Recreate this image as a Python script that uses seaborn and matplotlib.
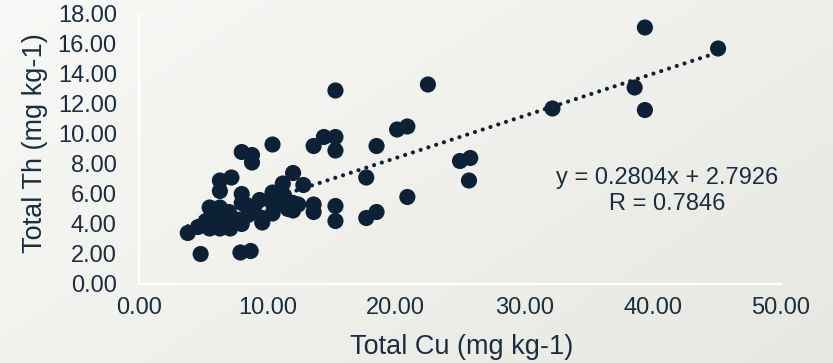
import numpy as np
import pandas as pd
import matplotlib
matplotlib.use("Agg")
import matplotlib.pyplot as plt
import seaborn as sns

# values
cu = [39.4, 45.1, 38.6, 39.4, 32.2, 22.5, 15.3,
      20.1, 20.9, 13.6, 14.4, 15.3, 15.3, 18.5, 17.7,
      25.0, 25.8, 25.7, 20.9, 13.6, 13.6, 15.3, 15.3, 17.7, 18.5,
      10.4, 8.0, 8.8, 8.8, 12.0, 11.2, 12.8, 6.3, 7.2, 6.3, 8.0, 10.4,
      12.0, 12.0, 5.5, 6.3, 3.8, 4.6, 5.5, 6.3, 7.1, 8.0, 4.8, 7.9, 8.7,
      9.6, 9.6, 10.4, 10.4, 9.4, 8.0, 7.9, 6.0, 7.0, 7.5, 8.3, 9.0,
      10.9, 11.3, 6.8, 5.2, 5.8, 8.5, 11.6, 12.4]
th = [17.1, 15.7, 13.1, 11.6, 11.7, 13.3, 12.9,
      10.3, 10.5, 9.2, 9.8, 9.8, 8.9, 9.2, 7.1,
      8.2, 8.4, 6.9, 5.8, 5.3, 4.8, 5.2, 4.2, 4.4, 4.8,
      9.3, 8.8, 8.6, 8.1, 7.4, 6.7, 6.6, 6.9, 7.1, 6.2, 6.0, 6.1,
      5.4, 4.9, 5.1, 5.1, 3.4, 3.8, 3.7, 3.7, 3.7, 4.0, 2.0, 2.1, 2.2,
      4.4, 4.1, 4.7, 5.4, 5.6, 5.4, 4.3, 4.5, 4.8, 4.3, 5.3, 5.2,
      5.3, 5.9, 4.3, 4.2, 4.6, 4.6, 5.0, 5.3]

slope = 0.2804
intercept = 2.7926
r_value = 0.7846

df = pd.DataFrame({"cu": cu, "th": th})

navy = "#0c2136"
txt = "#1b2d40"
bg = "#f1f1ec"

sns.set_style("white")
plt.rcParams["font.family"] = ["Liberation Sans", "DejaVu Sans"]

fig = plt.figure(figsize=(8.33, 3.63), dpi=100)
fig.patch.set_facecolor(bg)

# soft diagonal background gradient
bgax = fig.add_axes([0, 0, 1, 1], zorder=-10)
gx, gy = np.meshgrid(np.linspace(0, 1, 200), np.linspace(0, 1, 100))
bgax.imshow(gx * 0.6 + gy * 0.4, cmap=matplotlib.colors.LinearSegmentedColormap.from_list(
    "bg", ["#f8f8f6", "#e8e8e2"]), aspect="auto", extent=[0, 1, 0, 1], origin="upper")
bgax.axis("off")

ax = fig.add_axes([139 / 833, 1 - 284 / 363, 642 / 833, 270 / 363])
ax.patch.set_alpha(0)

sns.scatterplot(data=df, x="cu", y="th", ax=ax, s=135, color=navy,
                edgecolor="none", zorder=3)

xs = np.array([min(cu), max(cu)])
ax.plot(xs, slope * xs + intercept, color=navy, lw=3.0,
        linestyle=(0, (0.01, 1.95)), dash_capstyle="round", zorder=4)

ax.text(41.1, 7.05, f"y = {slope:.4f}x + {intercept:.4f}", ha="center",
        va="center", fontsize=17, color=txt)
ax.text(41.1, 5.3, f"R = {r_value:.4f}", ha="center", va="center",
        fontsize=17, color=txt)

ax.set_xlim(0, 50)
ax.set_ylim(0, 18)
ax.set_xticks(np.arange(0, 51, 10))
ax.set_yticks(np.arange(0, 19, 2))
ax.set_xticklabels([f"{v:.2f}" for v in np.arange(0, 51, 10)])
ax.set_yticklabels([f"{v:.2f}" for v in np.arange(0, 19, 2)])
ax.tick_params(axis="both", length=0, labelsize=17, labelcolor=txt)
ax.tick_params(axis="y", pad=16)
ax.tick_params(axis="x", pad=9)
ax.set_xlabel("Total Cu (mg kg-1)", fontsize=19.5, color=txt, va="center")
ax.set_ylabel("Total Th (mg kg-1)", fontsize=19.5, color=txt, va="center")
ax.xaxis.set_label_coords(0.503, -0.233)
ax.yaxis.set_label_coords(-0.162, 0.52)

for side in ["top", "right"]:
    ax.spines[side].set_visible(False)
for side in ["left", "bottom"]:
    ax.spines[side].set_color("white")
    ax.spines[side].set_linewidth(1.6)

fig.savefig("out.png", dpi=100, facecolor=fig.get_facecolor())
